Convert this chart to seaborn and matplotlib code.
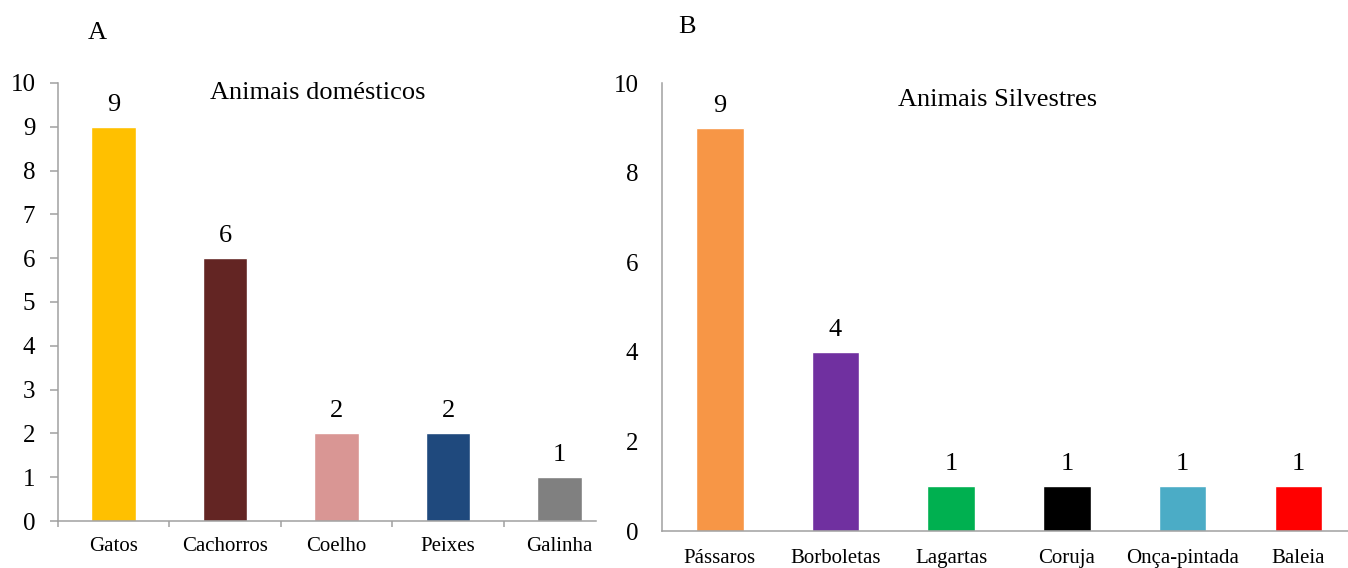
import matplotlib
matplotlib.use("Agg")
import matplotlib.pyplot as plt
import seaborn as sns
import pandas as pd

# Panel A: domestic animals
domestic_animals = ["Gatos", "Cachorros", "Coelho", "Peixes", "Galinha"]
domestic_counts = [9, 6, 2, 2, 1]
domestic_colors = ["#FFC000", "#632523", "#D99694", "#1F497D", "#808080"]
domestic_yticks = list(range(0, 11, 1))

# Panel B: wild animals
wild_animals = ["Pássaros", "Borboletas", "Lagartas", "Coruja", "Onça-pintada", "Baleia"]
wild_counts = [9, 4, 1, 1, 1, 1]
wild_colors = ["#F79646", "#7030A0", "#00B050", "#000000", "#4BACC6", "#FF0000"]
wild_yticks = list(range(0, 11, 2))

sns.set_theme(style="white")
plt.rcParams["font.family"] = ["Liberation Serif", "DejaVu Serif"]
plt.rcParams["text.color"] = "black"

AXIS_GRAY = "#A0A0A0"
W, H = 1348, 568

fig = plt.figure(figsize=(W / 100, H / 100), dpi=100)
ax_a = fig.add_axes([58 / W, 47 / H, (596 - 58) / W, 438 / H])
ax_b = fig.add_axes([662 / W, 37 / H, (W - 662) / W, 448 / H])


def draw_panel(ax, names, counts, colors, width):
    df = pd.DataFrame({"animal": names, "n": counts})
    sns.barplot(data=df, x="animal", y="n", hue="animal", palette=colors,
                width=width, saturation=1, legend=False, ax=ax)
    for cont in ax.containers:
        ax.bar_label(cont, fontsize=19, padding=8, color="black")
    ax.set_xlabel("")
    ax.set_ylabel("")
    ax.set_ylim(0, 10)
    for side in ("top", "right"):
        ax.spines[side].set_visible(False)
    for side in ("left", "bottom"):
        ax.spines[side].set_color(AXIS_GRAY)
        ax.spines[side].set_linewidth(1.1)
        ax.spines[side].set_visible(True)


# Panel A
draw_panel(ax_a, domestic_animals, domestic_counts, domestic_colors, 0.40)
ax_a.set_xlim(-0.5, 4.327)
ax_a.set_yticks(domestic_yticks)
ax_a.set_xticks([i - 0.5 for i in range(len(domestic_animals))], minor=True)
ax_a.tick_params(axis="y", left=True, length=5.8, width=1.1, color=AXIS_GRAY,
                 direction="out", pad=10.5, labelsize=18, labelcolor="black")
ax_a.tick_params(axis="x", which="major", bottom=True, length=0, pad=11.5,
                 labelsize=15, labelcolor="black")
ax_a.tick_params(axis="x", which="minor", bottom=True, length=4.3, width=1.1,
                 color=AXIS_GRAY, direction="out")

# Panel B
draw_panel(ax_b, wild_animals, wild_counts, wild_colors, 0.41)
ax_b.set_xlim(-0.5, 5.43)
ax_b.set_yticks(wild_yticks)
ax_b.tick_params(axis="y", left=False, length=0, pad=17, labelsize=18,
                 labelcolor="black")
ax_b.tick_params(axis="x", bottom=False, length=0, pad=13, labelsize=15,
                 labelcolor="black")

# Panel letters and titles
fig.text(97.5 / W, 1 - 39 / H, "A", fontsize=19, ha="center", va="baseline")
fig.text(687 / W, 1 - 33 / H, "B", fontsize=19, ha="center", va="baseline")
fig.text(318 / W, 1 - 99 / H, "Animais domésticos", fontsize=19,
         ha="center", va="baseline")
fig.text(998 / W, 1 - 106 / H, "Animais Silvestres", fontsize=19,
         ha="center", va="baseline")

fig.savefig("out.png", dpi=100, facecolor="white")
